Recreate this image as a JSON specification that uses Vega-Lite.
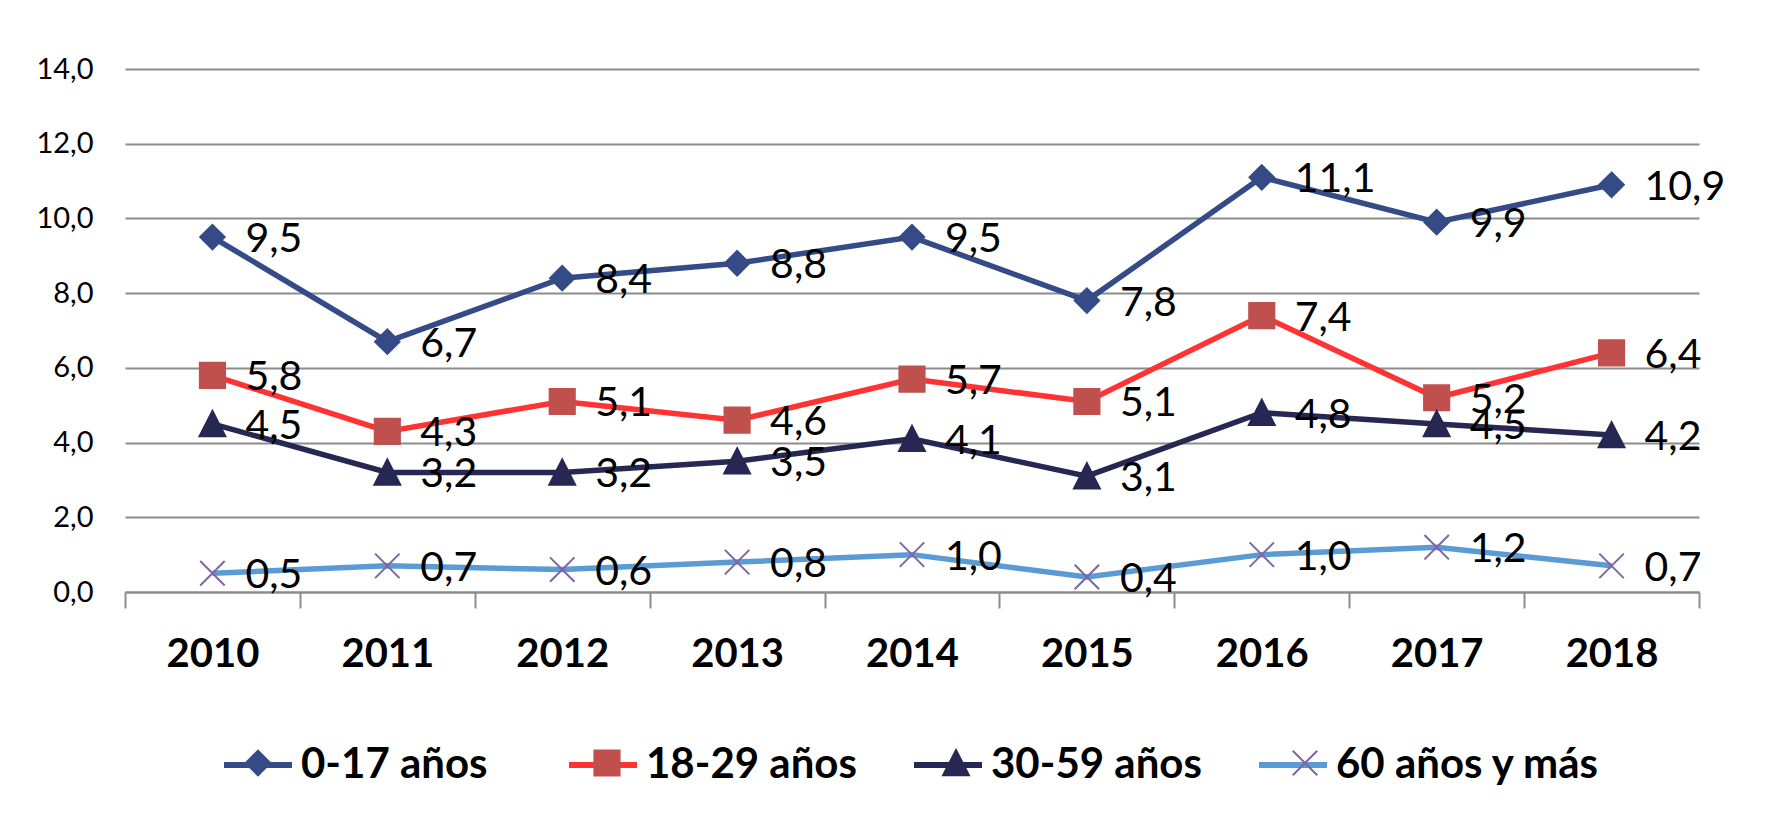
{
  "$schema": "https://vega.github.io/schema/vega-lite/v6.json",
  "width": 1574,
  "height": 523,
  "autosize": {"type": "none"},
  "padding": {"left": 125, "top": 69, "right": 80, "bottom": 231},
  "background": "white",
  "config": {
    "locale": {"number": {"decimal": ",", "thousands": ".", "grouping": [3], "currency": ["", " €"]}},
    "view": {"stroke": null},
    "font": "Lato"
  },
  "data": {
    "values": [
      {"year": "2010", "series": "0-17 años", "value": 9.5},
      {"year": "2011", "series": "0-17 años", "value": 6.7},
      {"year": "2012", "series": "0-17 años", "value": 8.4},
      {"year": "2013", "series": "0-17 años", "value": 8.8},
      {"year": "2014", "series": "0-17 años", "value": 9.5},
      {"year": "2015", "series": "0-17 años", "value": 7.8},
      {"year": "2016", "series": "0-17 años", "value": 11.1},
      {"year": "2017", "series": "0-17 años", "value": 9.9},
      {"year": "2018", "series": "0-17 años", "value": 10.9},
      {"year": "2010", "series": "18-29 años", "value": 5.8},
      {"year": "2011", "series": "18-29 años", "value": 4.3},
      {"year": "2012", "series": "18-29 años", "value": 5.1},
      {"year": "2013", "series": "18-29 años", "value": 4.6},
      {"year": "2014", "series": "18-29 años", "value": 5.7},
      {"year": "2015", "series": "18-29 años", "value": 5.1},
      {"year": "2016", "series": "18-29 años", "value": 7.4},
      {"year": "2017", "series": "18-29 años", "value": 5.2},
      {"year": "2018", "series": "18-29 años", "value": 6.4},
      {"year": "2010", "series": "30-59 años", "value": 4.5},
      {"year": "2011", "series": "30-59 años", "value": 3.2},
      {"year": "2012", "series": "30-59 años", "value": 3.2},
      {"year": "2013", "series": "30-59 años", "value": 3.5},
      {"year": "2014", "series": "30-59 años", "value": 4.1},
      {"year": "2015", "series": "30-59 años", "value": 3.1},
      {"year": "2016", "series": "30-59 años", "value": 4.8},
      {"year": "2017", "series": "30-59 años", "value": 4.5},
      {"year": "2018", "series": "30-59 años", "value": 4.2},
      {"year": "2010", "series": "60 años y más", "value": 0.5},
      {"year": "2011", "series": "60 años y más", "value": 0.7},
      {"year": "2012", "series": "60 años y más", "value": 0.6},
      {"year": "2013", "series": "60 años y más", "value": 0.8},
      {"year": "2014", "series": "60 años y más", "value": 1.0},
      {"year": "2015", "series": "60 años y más", "value": 0.4},
      {"year": "2016", "series": "60 años y más", "value": 1.0},
      {"year": "2017", "series": "60 años y más", "value": 1.2},
      {"year": "2018", "series": "60 años y más", "value": 0.7}
    ]
  },
  "encoding": {
    "x": {
      "field": "year",
      "type": "ordinal",
      "scale": {"type": "band", "paddingInner": 0, "paddingOuter": 0},
      "axis": {
        "title": null,
        "labelAngle": 0,
        "labelFont": "Lato",
        "labelFontSize": 40,
        "labelFontWeight": "bold",
        "labelColor": "black",
        "domainColor": "#8c8c8c",
        "domainWidth": 2,
        "tickColor": "#8c8c8c",
        "tickWidth": 2,
        "tickSize": 16,
        "tickBand": "extent",
        "labelPadding": 26,
        "grid": false
      }
    },
    "y": {
      "field": "value",
      "type": "quantitative",
      "scale": {"domain": [0, 14], "nice": false, "zero": true},
      "axis": {
        "title": null,
        "values": [0, 2, 4, 6, 8, 10, 12, 14],
        "format": ".1f",
        "grid": true,
        "gridColor": "#8c8c8c",
        "gridWidth": 2,
        "domain": false,
        "ticks": false,
        "labelFont": "Lato",
        "labelFontSize": 29,
        "labelColor": "black",
        "labelPadding": 32
      }
    }
  },
  "layer": [
    {
      "mark": {"type": "line", "strokeWidth": 5.5},
      "encoding": {
        "color": {
          "field": "series",
          "type": "nominal",
          "scale": {
            "domain": ["0-17 años", "18-29 años", "30-59 años", "60 años y más"],
            "range": ["#344B87", "#FF3333", "#262752", "#5B9BD5"]
          },
          "legend": {
            "orient": "none",
            "legendX": 96,
            "legendY": 659,
            "direction": "horizontal",
            "title": null,
            "symbolType": "stroke",
            "symbolSize": 4624,
            "symbolStrokeWidth": 6,
            "labelFont": "Lato",
            "labelFontSize": 42,
            "labelFontWeight": "bold",
            "labelColor": "black",
            "labelOffset": 6,
            "labelLimit": 0,
            "gridAlign": "all",
            "columnPadding": -22,
            "zindex": 0
          }
        }
      }
    },
    {
      "mark": {"type": "point", "filled": true, "size": 4624, "strokeWidth": 2, "opacity": 1},
      "encoding": {
        "shape": {
          "field": "series",
          "type": "nominal",
          "scale": {
            "range": [
              "M0,-0.36L0.36,0L0,0.36L-0.36,0Z",
              "M-0.37,-0.37H0.37V0.37H-0.37Z",
              "M0,-0.38L0.38,0.36L-0.38,0.36Z",
              "M-0.36,-0.36L0.36,0.36M-0.36,0.36L0.36,-0.36"
            ]
          },
          "legend": {
            "orient": "none",
            "legendX": 98,
            "legendY": 659,
            "direction": "horizontal",
            "title": null,
            "symbolSize": 4624,
            "symbolStrokeWidth": 2,
            "labelExpr": "''",
            "labelFont": "Lato",
            "labelFontSize": 42,
            "labelFontWeight": "bold",
            "labelColor": "black",
            "labelOffset": 10,
            "labelLimit": 0,
            "gridAlign": "all",
            "columnPadding": 269,
            "zindex": 1
          }
        },
        "fill": {
          "field": "series",
          "type": "nominal",
          "scale": {"range": ["#344B87", "#C0504D", "#262752", "#8064A2"]},
          "legend": {"title": null}
        },
        "stroke": {
          "field": "series",
          "type": "nominal",
          "scale": {"range": ["#344B87", "#C0504D", "#262752", "#8064A2"]},
          "legend": {"title": null}
        }
      }
    },
    {
      "mark": {"type": "text", "align": "left", "baseline": "middle", "dx": 33, "dy": 3, "font": "Lato", "fontSize": 41, "color": "black"},
      "encoding": {
        "text": {"field": "value", "type": "quantitative", "format": ".1f"}
      }
    }
  ]
}
